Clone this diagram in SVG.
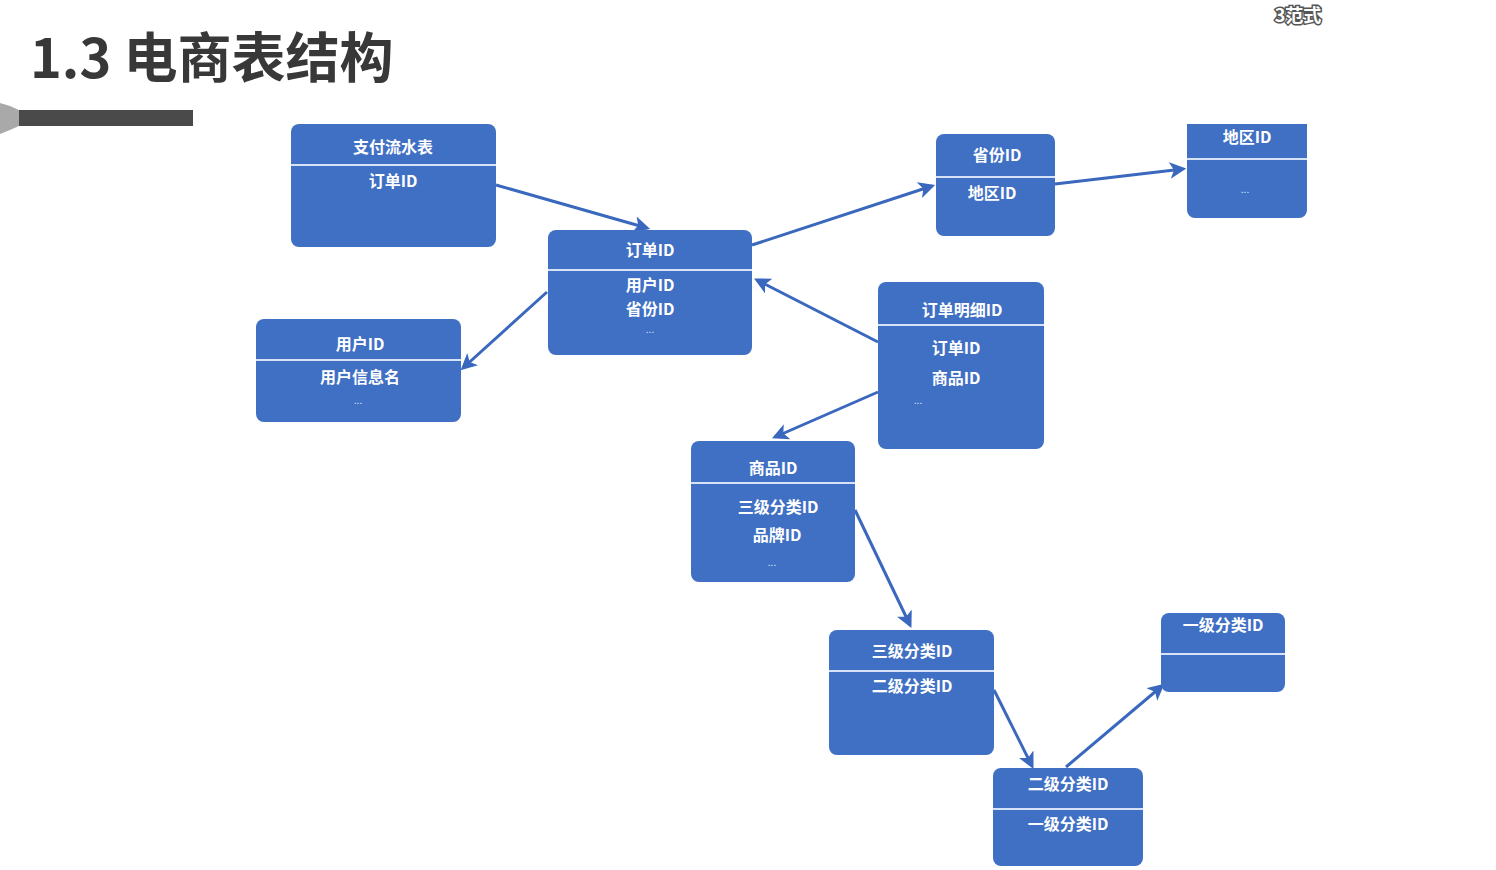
<svg xmlns="http://www.w3.org/2000/svg" width="1496" height="870" viewBox="0 0 1496 870">
<defs>
<style>
.box{fill:#4070C4;}
.div{stroke:#D6E2F6;stroke-width:2;}
.t{font-family:"Noto Sans CJK SC","Noto Sans",sans-serif;font-size:16px;font-weight:700;fill:#FFFFFF;text-anchor:middle;}
.d{font-family:"Noto Sans CJK SC","Noto Sans",sans-serif;font-size:10px;fill:#DDE6F6;text-anchor:middle;}
.c{stroke:#3A68BE;stroke-width:3;fill:none;marker-end:url(#ah);}
</style>
<marker id="ah" viewBox="0 0 10 10" refX="8" refY="5" markerWidth="5.5" markerHeight="5.5" orient="auto" markerUnits="strokeWidth">
<path d="M0,0 L10,5 L0,10 L2.5,5 Z" fill="#3A68BE"/>
</marker>
</defs>
<rect width="1496" height="870" fill="#FFFFFF"/>
<text x="30" y="78" font-family="Noto Sans CJK SC,Noto Sans,sans-serif" font-size="54" font-weight="700" fill="#383838">1.3 电商表结构</text>
<path d="M0,103 L10,106 L19,110 L19,126 L10,130 L0,134 Z" fill="#A9A9A9"/>
<rect x="19" y="110" width="174" height="16" fill="#4A4A4A"/>
<text x="1298" y="22" font-family="Noto Sans CJK SC,sans-serif" font-size="18" font-weight="700" fill="#FFFFFF" stroke="#555555" stroke-width="3" paint-order="stroke" text-anchor="middle">3范式</text>

<g id="connectors">
<line class="c" x1="496" y1="185" x2="647" y2="228"/>
<line class="c" x1="752" y1="245" x2="932" y2="186"/>
<line class="c" x1="1055" y1="184" x2="1183" y2="169"/>
<line class="c" x1="547" y1="292" x2="463" y2="368"/>
<line class="c" x1="878" y1="342" x2="757" y2="280"/>
<line class="c" x1="878" y1="392" x2="775" y2="437"/>
<line class="c" x1="855" y1="510" x2="910" y2="625"/>
<line class="c" x1="994" y1="690" x2="1032" y2="766"/>
<line class="c" x1="1066" y1="767" x2="1162" y2="686"/>
</g>

<g id="node-payment">
<rect class="box" x="291" y="124" width="205" height="123" rx="8"/>
<line class="div" x1="291" y1="165" x2="496" y2="165"/>
<text class="t" x="393" y="153">支付流水表</text>
<text class="t" x="393" y="187">订单ID</text>
</g>

<g id="node-order">
<rect class="box" x="548" y="230" width="204" height="125" rx="8"/>
<line class="div" x1="548" y1="270" x2="752" y2="270"/>
<text class="t" x="650" y="256">订单ID</text>
<text class="t" x="650" y="291">用户ID</text>
<text class="t" x="650" y="315">省份ID</text>
<text class="d" x="650" y="333">...</text>
</g>

<g id="node-user">
<rect class="box" x="256" y="319" width="205" height="103" rx="8"/>
<line class="div" x1="256" y1="360" x2="461" y2="360"/>
<text class="t" x="360" y="350">用户ID</text>
<text class="t" x="360" y="383">用户信息名</text>
<text class="d" x="358" y="404">...</text>
</g>

<g id="node-province">
<rect class="box" x="936" y="134" width="119" height="102" rx="8"/>
<line class="div" x1="936" y1="177" x2="1055" y2="177"/>
<text class="t" x="997" y="161">省份ID</text>
<text class="t" x="992" y="199">地区ID</text>
</g>

<g id="node-region">
<path class="box" d="M1187,124 H1307 V210 A8,8 0 0 1 1299,218 H1195 A8,8 0 0 1 1187,210 Z"/>
<line class="div" x1="1187" y1="159" x2="1307" y2="159"/>
<text class="t" x="1247" y="143">地区ID</text>
<text class="d" x="1245" y="193">...</text>
</g>

<g id="node-orderdetail">
<rect class="box" x="878" y="282" width="166" height="167" rx="8"/>
<line class="div" x1="878" y1="325" x2="1044" y2="325"/>
<text class="t" x="962" y="316">订单明细ID</text>
<text class="t" x="956" y="354">订单ID</text>
<text class="t" x="956" y="384">商品ID</text>
<text class="d" x="918" y="404">...</text>
</g>

<g id="node-product">
<rect class="box" x="691" y="441" width="164" height="141" rx="8"/>
<line class="div" x1="691" y1="483" x2="855" y2="483"/>
<text class="t" x="773" y="474">商品ID</text>
<text class="t" x="778" y="513">三级分类ID</text>
<text class="t" x="777" y="541">品牌ID</text>
<text class="d" x="772" y="566">...</text>
</g>

<g id="node-cat3">
<rect class="box" x="829" y="630" width="165" height="125" rx="8"/>
<line class="div" x1="829" y1="671" x2="994" y2="671"/>
<text class="t" x="912" y="657">三级分类ID</text>
<text class="t" x="912" y="692">二级分类ID</text>
</g>

<g id="node-cat1">
<rect class="box" x="1161" y="613" width="124" height="79" rx="8"/>
<line class="div" x1="1161" y1="654" x2="1285" y2="654"/>
<text class="t" x="1223" y="631">一级分类ID</text>
</g>

<g id="node-cat2">
<rect class="box" x="993" y="768" width="150" height="98" rx="8"/>
<line class="div" x1="993" y1="809" x2="1143" y2="809"/>
<text class="t" x="1068" y="790">二级分类ID</text>
<text class="t" x="1068" y="830">一级分类ID</text>
</g>
</svg>
